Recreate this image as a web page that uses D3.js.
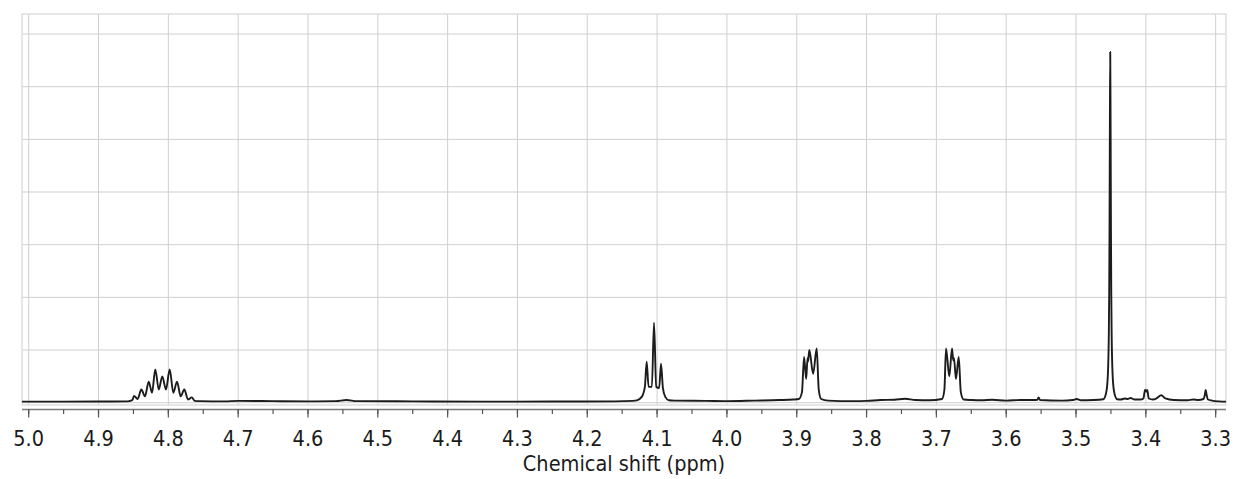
<!DOCTYPE html>
<html lang="en">
    <head>
        <meta charset="UTF-8" />
        <title>1H NMR spectrum</title>
        <style>
            html,
            body {
                margin: 0;
                background: #fff;
            }
            svg text {
                font-family: "DejaVu Sans Condensed", "DejaVu Sans", sans-serif;
                font-stretch: condensed;
                fill: #1a1a1a;
            }
            .grid line {
                stroke: #cfcfcf;
                stroke-width: 1px;
            }
            .frame {
                fill: none;
                stroke: #d6d6d6;
                stroke-width: 1.2px;
            }
            .spectrum {
                fill: none;
                stroke: #1c1c1c;
                stroke-width: 1.9px;
                stroke-linejoin: round;
            }
        </style>
    </head>
    <body>
        <div id="chart"></div>
        <script src="https://d3js.org/d3.v7.min.js"></script>
        <script>
            // tick labels on the shift axis (ppm)
            const shiftTicks = [5.0, 4.9, 4.8, 4.7, 4.6, 4.5, 4.4, 4.3, 4.2, 4.1, 4.0, 3.9, 3.8, 3.7, 3.6, 3.5, 3.4, 3.3];
            const intensityGrid = [0, 1, 2, 3, 4, 5, 6, 7];

            // spectrum, [ppm, intensity] (grid units)
            const baseline = [
                [5.0096, 0.02], [4.95, 0.02], [4.9, 0.022], [4.86, 0.025],
                [4.755, 0.03], [4.72, 0.025], [4.7, 0.035], [4.65, 0.03], [4.6, 0.025],
                [4.56, 0.03], [4.545, 0.05], [4.53, 0.03], [4.45, 0.025], [4.35, 0.02],
                [4.25, 0.022], [4.16, 0.025], [4.135, 0.035],
                [4.075, 0.04], [4.03, 0.035], [4.0, 0.03], [3.96, 0.04], [3.925, 0.05], [3.905, 0.06],
                [3.855, 0.04], [3.82, 0.03], [3.8, 0.035], [3.78, 0.05], [3.76, 0.055],
                [3.745, 0.075], [3.73, 0.05], [3.71, 0.045],
                [3.65, 0.05], [3.635, 0.045], [3.62, 0.055], [3.6, 0.04], [3.58, 0.05], [3.56, 0.05],
                [3.5555, 0.055], [3.5535, 0.1], [3.5515, 0.05], [3.52, 0.04], [3.505, 0.05],
                [3.499, 0.07], [3.493, 0.045], [3.475, 0.05],
                [3.436, 0.06], [3.43, 0.08], [3.426, 0.07], [3.422, 0.09], [3.416, 0.06],
                [3.408, 0.06], [3.39, 0.06], [3.385, 0.08], [3.378, 0.14], [3.372, 0.08],
                [3.36, 0.05], [3.34, 0.045], [3.332, 0.06], [3.325, 0.05], [3.305, 0.04],
                [3.295, 0.025], [3.2852, 0.02]
            ];
            const multiplet480 = [
                [4.856, 0.03], [4.8515, 0.05], [4.8492, 0.13], [4.844, 0.07], [4.8387, 0.25],
                [4.8335, 0.12], [4.8281, 0.4], [4.8234, 0.19], [4.8187, 0.63], [4.8137, 0.25],
                [4.8087, 0.5], [4.8034, 0.25], [4.7981, 0.63], [4.7928, 0.19], [4.7876, 0.4],
                [4.7823, 0.12], [4.7771, 0.25], [4.7718, 0.06], [4.7665, 0.1], [4.762, 0.035]
            ];
            const triplet410 = [
                [4.129, 0.045], [4.122, 0.11], [4.1175, 0.3], [4.1149, 0.78], [4.1122, 0.3],
                [4.1075, 0.3], [4.1044, 1.52], [4.1013, 0.3], [4.097, 0.28], [4.0944, 0.74],
                [4.0917, 0.28], [4.0883, 0.11], [4.083, 0.045]
            ];
            const multiplet388 = [
                [3.897, 0.07], [3.8925, 0.2], [3.8895, 0.87], [3.8865, 0.45], [3.8845, 0.85],
                [3.8838, 0.78], [3.882, 1.0], [3.8765, 0.55], [3.8714, 1.03], [3.8685, 0.25],
                [3.865, 0.07]
            ];
            const multiplet368 = [
                [3.692, 0.07], [3.6885, 0.25], [3.6862, 1.03], [3.6815, 0.5], [3.6776, 1.03],
                [3.6758, 0.8], [3.6748, 0.85], [3.672, 0.45], [3.668, 0.87], [3.665, 0.2],
                [3.661, 0.06]
            ];
            const singlet345 = [
                [3.461, 0.066], [3.457, 0.18], [3.455, 0.39], [3.454, 0.67], [3.453, 1.33],
                [3.4525, 2.05], [3.452, 3.33], [3.4515, 5.33], [3.451, 6.66], [3.4505, 5.33],
                [3.45, 3.33], [3.4495, 2.05], [3.449, 1.33], [3.448, 0.67], [3.447, 0.39],
                [3.445, 0.18], [3.441, 0.066]
            ];
            const smallPeaks = [
                [3.4035, 0.08], [3.4012, 0.24], [3.3995, 0.21], [3.398, 0.24], [3.3958, 0.08],
                [3.3175, 0.07], [3.3155, 0.15], [3.3143, 0.24], [3.313, 0.15], [3.311, 0.06]
            ];

            const width = 1238;
            const height = 479;
            const plot = { left: 22, right: 1226, top: 14, bottom: 405 };
            const axisY = 409.5;

            const x = d3.scaleLinear().domain([5.0096, 3.2852]).range([plot.left, plot.right]);
            const y = d3.scaleLinear().domain([-0.044, 7.38]).range([plot.bottom, plot.top]);

            const svg = d3
                .select("#chart")
                .append("svg")
                .attr("width", width)
                .attr("height", height);

            // grid
            const grid = svg.append("g").attr("class", "grid");
            grid.selectAll(".vg")
                .data(shiftTicks)
                .join("line")
                .attr("x1", d => x(d))
                .attr("x2", d => x(d))
                .attr("y1", plot.top)
                .attr("y2", plot.bottom);
            grid.selectAll(".hg")
                .data(intensityGrid)
                .join("line")
                .attr("x1", plot.left)
                .attr("x2", plot.right)
                .attr("y1", d => y(d))
                .attr("y2", d => y(d));

            svg.append("rect")
                .attr("class", "frame")
                .attr("x", plot.left)
                .attr("y", plot.top)
                .attr("width", plot.right - plot.left)
                .attr("height", plot.bottom - plot.top);

            // spectrum
            const points = []
                .concat(baseline, multiplet480, triplet410, multiplet388, multiplet368, singlet345, smallPeaks)
                .sort((a, b) => b[0] - a[0]);

            const line = d3
                .line()
                .x(d => x(d[0]))
                .y(d => y(d[1]))
                .curve(d3.curveMonotoneX);

            svg.append("path").attr("class", "spectrum").attr("d", line(points));

            // bottom axis
            const minor = d3.range(5.0, 3.25, -0.05).map(v => +v.toFixed(2));
            const axis = svg.append("g").attr("transform", `translate(0,${axisY})`);
            axis.append("line")
                .attr("x1", plot.left)
                .attr("x2", plot.right)
                .attr("stroke", "#7a7a7a")
                .attr("stroke-width", 1.5);
            axis.selectAll(".minor")
                .data(minor)
                .join("line")
                .attr("x1", d => x(d))
                .attr("x2", d => x(d))
                .attr("y1", 0)
                .attr("y2", 4.5)
                .attr("stroke", "#555")
                .attr("stroke-width", 1.2);
            axis.selectAll(".major")
                .data(shiftTicks)
                .join("line")
                .attr("x1", d => x(d))
                .attr("x2", d => x(d))
                .attr("y1", 0)
                .attr("y2", 8)
                .attr("stroke", "#555")
                .attr("stroke-width", 1.2);
            axis.selectAll("text")
                .data(shiftTicks)
                .join("text")
                .attr("x", d => x(d))
                .attr("y", 36)
                .attr("text-anchor", "middle")
                .style("font-size", "21.5px")
                .text(d => d.toFixed(1));

            svg.append("text")
                .attr("x", (plot.left + plot.right) / 2)
                .attr("y", 470.5)
                .attr("text-anchor", "middle")
                .style("font-size", "21.5px")
                .text("Chemical shift (ppm)");
        </script>
    </body>
</html>
